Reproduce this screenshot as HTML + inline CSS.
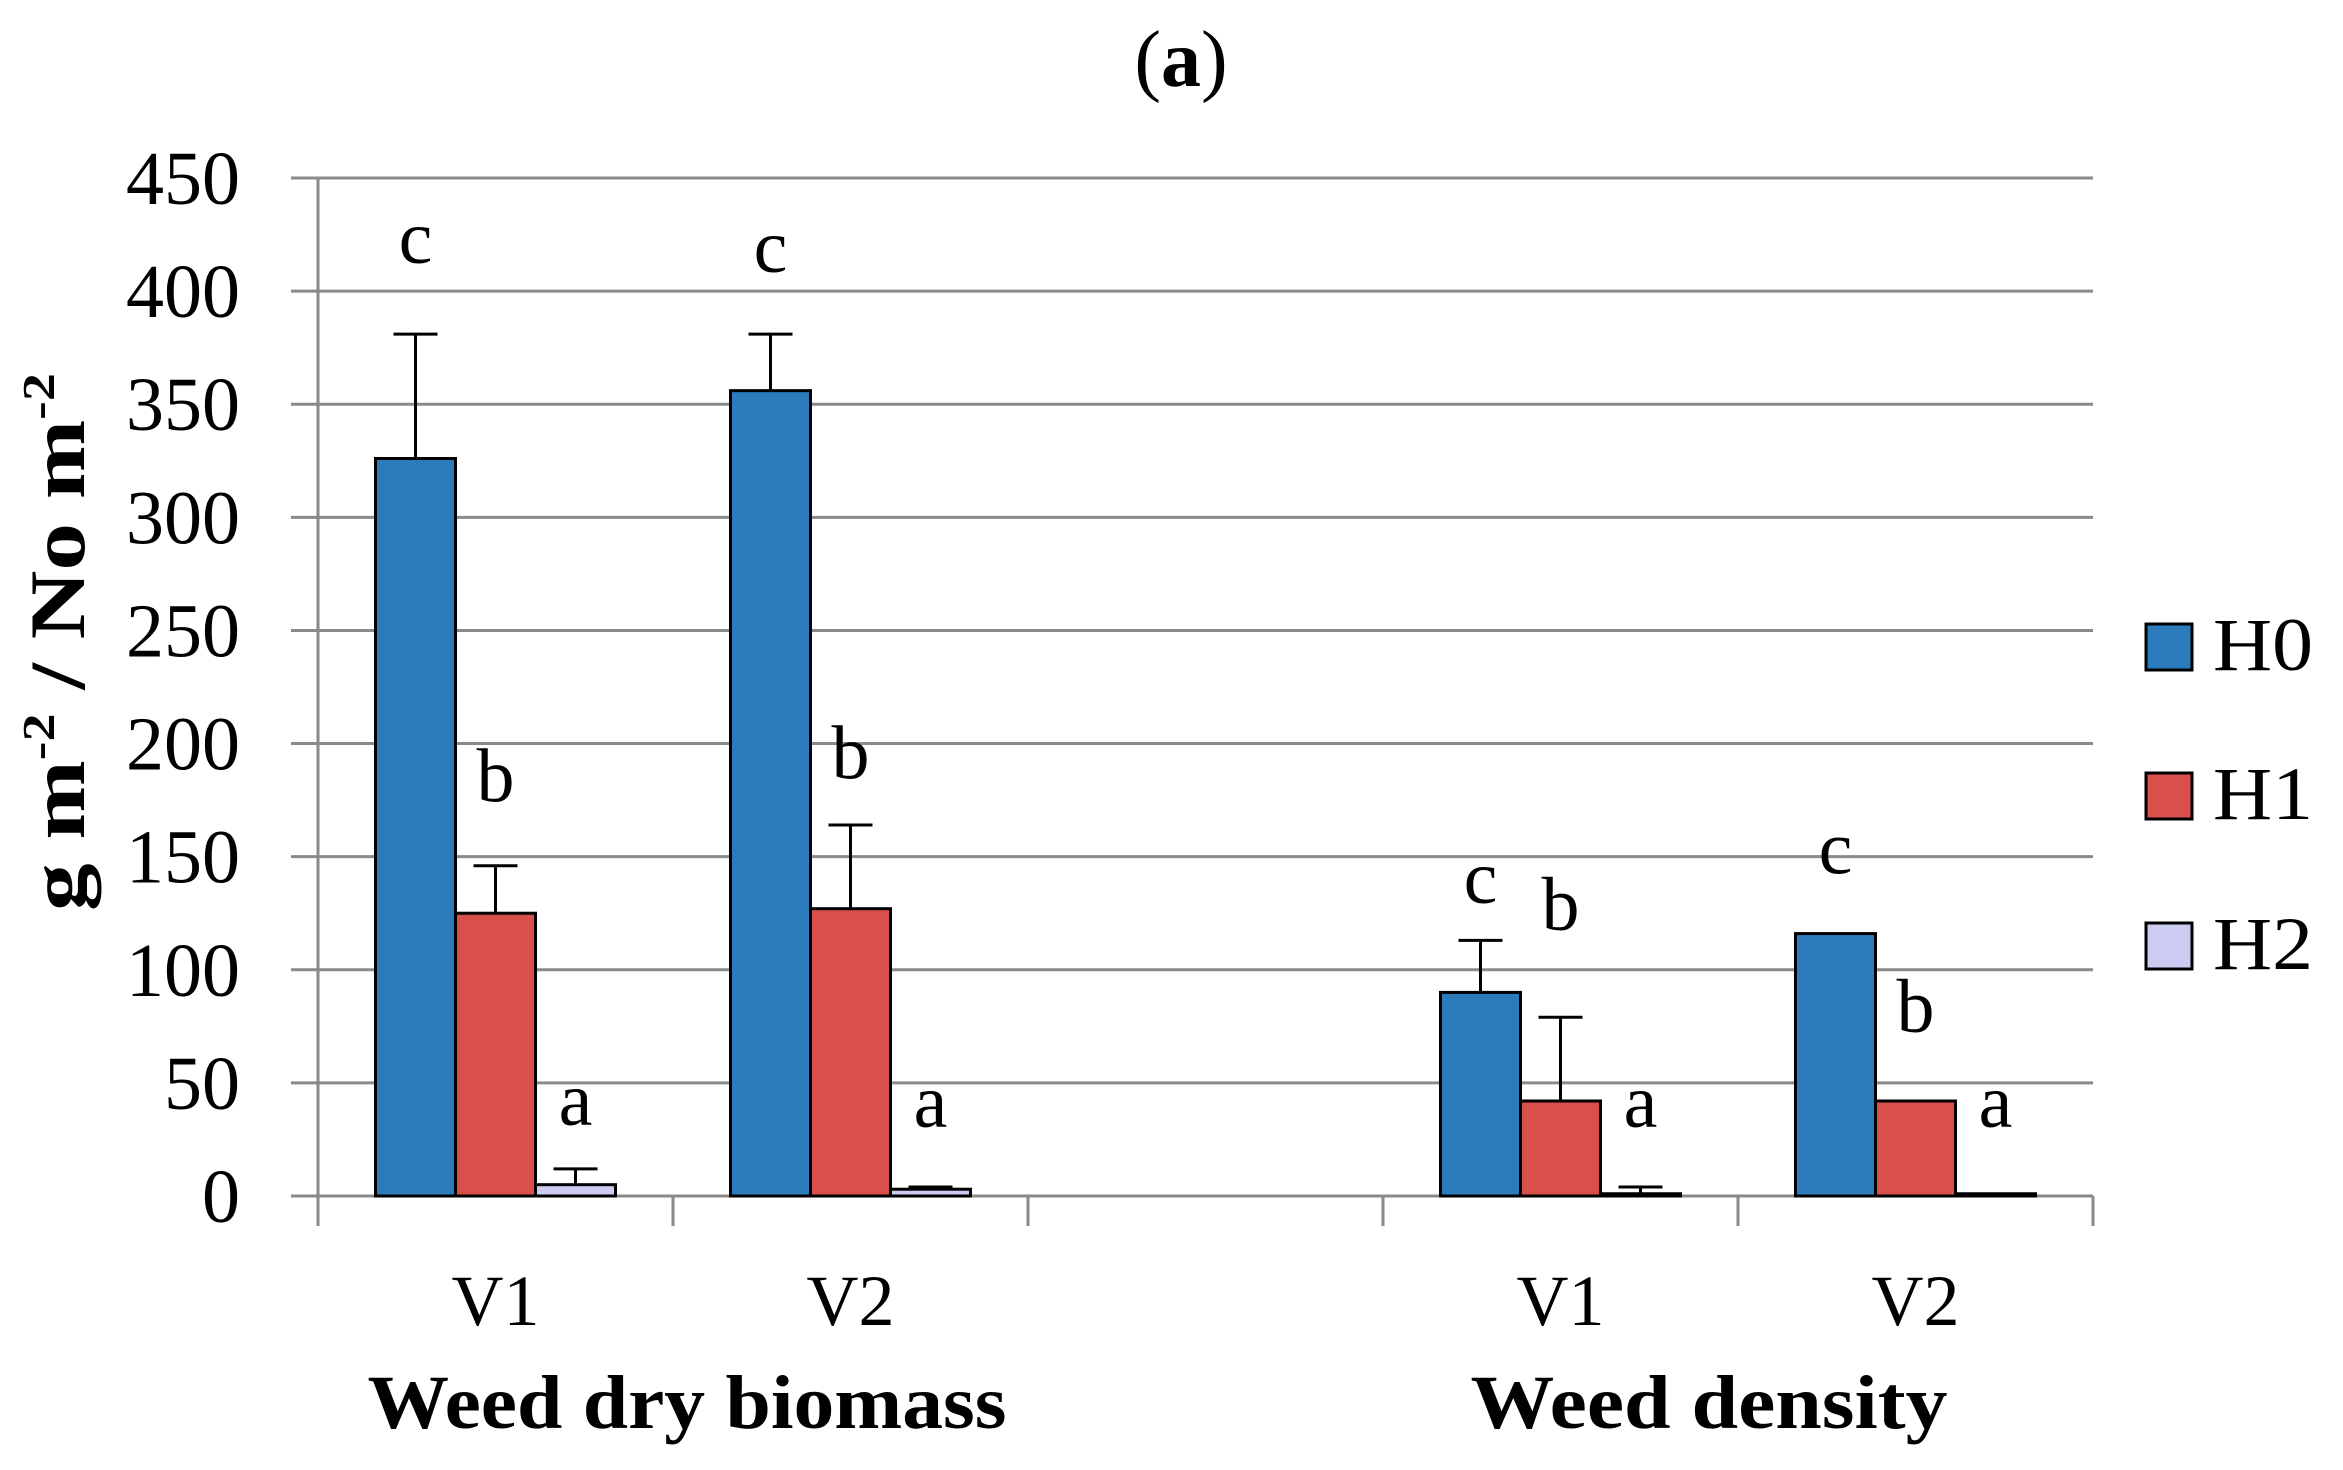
<!DOCTYPE html>
<html><head><meta charset="utf-8"><style>
html,body{margin:0;padding:0;background:#fff}
svg{display:block}
text{font-family:"Liberation Serif",serif;fill:#000}
</style></head><body>
<svg id="chart" width="2343" height="1470" viewBox="0 0 2343 1470" xmlns="http://www.w3.org/2000/svg">
<text x="1181" y="86" font-size="80" text-anchor="middle">(<tspan font-weight="bold">a</tspan>)</text>
<text transform="translate(84,642) rotate(-90)" font-size="78" font-weight="bold" text-anchor="middle" textLength="538" lengthAdjust="spacingAndGlyphs">g m<tspan font-size="46" dy="-30">-2</tspan><tspan dy="30"> / No m</tspan><tspan font-size="46" dy="-30">-2</tspan></text>
<g id="grid"></g><g id="bars"></g><g id="labels"></g>
<text x="687" y="1428" font-size="76" font-weight="bold" text-anchor="middle" textLength="639" lengthAdjust="spacingAndGlyphs">Weed dry biomass</text>
<text x="1709" y="1428" font-size="76" font-weight="bold" text-anchor="middle" textLength="477" lengthAdjust="spacingAndGlyphs">Weed density</text>
<g id="legend"></g>
</svg>
<script>
const categories = ["V1","V2","","V1","V2"];
const h0 = [326, 356, null, 90, 116];
const h1 = [125, 127, null, 42, 42];
const h2 = [5, 3, null, 1, 1];
const h0Err = [381, 381, null, 113, 116];
const h1Err = [146, 164, null, 79, 42];
const h2Err = [12, 4, null, 4, 1];
const letters = [["c","b","a"],["c","b","a"],null,["c","b","a"],["c","b","a"]];
const letterPos = [[420,182,39],[416,192,38],null,[137,125,38],[150,80,38]];
const yTicks = [0,50,100,150,200,250,300,350,400,450];
const seriesNames = ["H0","H1","H2"];
const colors = ["#2b7bbd","#d94f4c","#ccccf2"];

const NS="http://www.w3.org/2000/svg";
const X0=318, X1=2093, Y0=1196, Y450=178;
const y = v => Y0 - (v/450)*(Y0-Y450);
const catW = (X1-X0)/categories.length;
const xc = i => X0 + catW*(i+0.5);
const BW = 80;
function mk(tag, attrs, parent){const e=document.createElementNS(NS,tag);for(const k in attrs)e.setAttribute(k,attrs[k]);parent.appendChild(e);return e;}
const grid=document.getElementById('grid'), bars=document.getElementById('bars'), labels=document.getElementById('labels'), legend=document.getElementById('legend');

yTicks.forEach(t=>{
  const l=mk('line',{x1:291,x2:X1,y1:y(t),y2:y(t),stroke:'#8a8a8a','stroke-width':3},grid);
  
  
  const tx=mk('text',{x:240,y:y(t)+26,'font-size':76,'text-anchor':'end',textLength:String(t).length*38,lengthAdjust:'spacingAndGlyphs'},labels);
  tx.textContent=t;
  
  
});
const ax=mk('line',{x1:X0,x2:X0,y1:Y450,y2:Y0+30,stroke:'#8a8a8a','stroke-width':3},grid);


for(let i=0;i<=categories.length;i++){
  const tk=mk('line',{x1:X0+catW*i,x2:X0+catW*i,y1:Y0,y2:Y0+30,stroke:'#8a8a8a','stroke-width':3},grid);
  
  
}
const series=[h0,h1,h2], errs=[h0Err,h1Err,h2Err];
categories.forEach((c,i)=>{
  if(c){
    const t=mk('text',{x:xc(i),y:1325,'font-size':72,'text-anchor':'middle'},labels);
    t.textContent=c;
    
    
  }
  series.forEach((s,j)=>{
    if(s[i]==null) return;
    const bx=xc(i)-1.5*BW+j*BW;
    const e=errs[j][i];
    if(e!=null && e>s[i]){
      const el=mk('line',{x1:bx+BW/2,x2:bx+BW/2,y1:y(e),y2:y(s[i]),stroke:'#000','stroke-width':3},bars);
      
      
      const cap=mk('line',{x1:bx+BW/2-22,x2:bx+BW/2+22,y1:y(e),y2:y(e),stroke:'#000','stroke-width':3},bars);
      
      
    }
    const r=mk('rect',{x:bx,y:y(s[i]),width:BW,height:Y0-y(s[i]),fill:colors[j],stroke:'#000','stroke-width':3},bars);
    
    
    if(letters[i]){
      const lt=mk('text',{x:bx+BW/2,y:y(letterPos[i][j])+17,'font-size':76,'text-anchor':'middle'},labels);
      lt.textContent=letters[i][j];
      
      
    }
  });
});
const legY=[624,773,923];
seriesNames.forEach((n,j)=>{
  const r=mk('rect',{x:2146,y:legY[j],width:46,height:46,fill:colors[j],stroke:'#000','stroke-width':3},legend);
  
  
  const t=mk('text',{x:2213,y:legY[j]+46,'font-size':75,textLength:100,lengthAdjust:'spacingAndGlyphs'},legend);
  t.textContent=n;
  
  
});
</script>
</body></html>
